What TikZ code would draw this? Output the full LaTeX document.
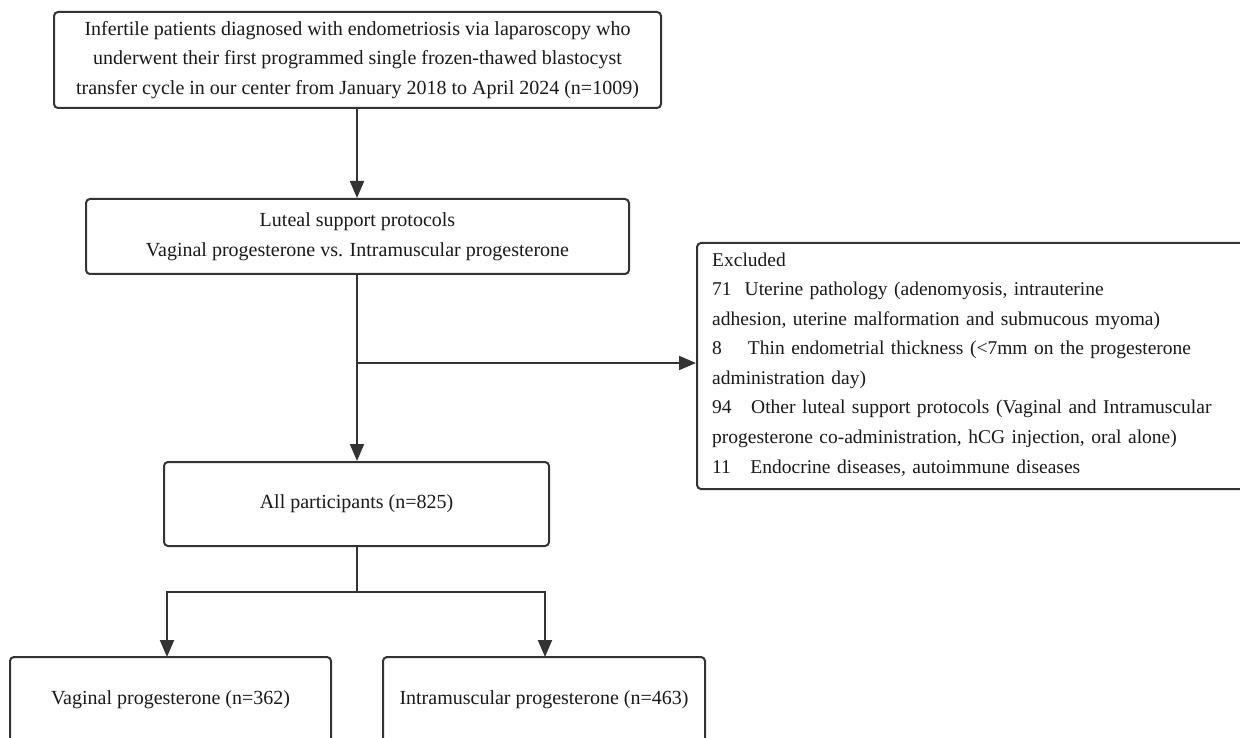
\documentclass[tikz,border=0pt]{standalone}
\usepackage{fontspec}
\setmainfont{Liberation Serif}
\usetikzlibrary{arrows.meta}
\definecolor{lineC}{HTML}{333333}
\definecolor{textC}{HTML}{1A1A1A}
\tikzset{
  boxn/.style={draw=lineC, line width=2pt, rounded corners=4pt, align=center,
    text=textC, font=\fontsize{20}{29.5}\selectfont, inner sep=0pt},
  conn/.style={draw=lineC, line width=2pt},
  arr/.style={conn, -{Triangle[length=17pt,width=14pt]}}
}
\begin{document}
\begin{tikzpicture}[x=1pt,y=-1pt]
\useasboundingbox (0,0) rectangle (1240,738);
\clip (0,0) rectangle (1240,738);
\fill[white] (0,0) rectangle (1240,738);
\node[boxn, minimum width=607pt, minimum height=96pt] (b1) at (357.5,60)
  {Infertile patients diagnosed with endometriosis via laparoscopy who\\
   underwent their first programmed single frozen-thawed blastocyst\\
   transfer cycle in our center from January 2018 to April 2024 (n=1009)};
\node[boxn, minimum width=543pt, minimum height=75pt] (b2) at (357.5,236.5)
  {Luteal support protocols\\ Vaginal progesterone vs. Intramuscular progesterone};
\node[boxn, minimum width=385pt, minimum height=84pt] (b3) at (356.5,504)
  {All participants (n=825)};
\node[boxn, minimum width=321pt, minimum height=85pt] (b4) at (170.5,699.5)
  {Vaginal progesterone (n=362)};
\node[boxn, minimum width=322pt, minimum height=85pt] (b5) at (544,699.5)
  {Intramuscular progesterone (n=463)};
\node[boxn, minimum width=560pt, minimum height=246pt, anchor=north west] (ex) at (696,242) {};
\node[anchor=base west, align=left, text=textC, font=\fontsize{19.5}{29.6}\selectfont,
  inner sep=0pt, text width=530pt] (extext) at (712,266)
  {Excluded\\
   71\ \ Uterine pathology (adenomyosis, intrauterine\\
   adhesion, uterine malformation and submucous myoma)\\
   8\ \ \ \ Thin endometrial thickness (<7mm on the progesterone\\
   administration day)\\
   94\ \ \ Other luteal support protocols (Vaginal and Intramuscular\\
   progesterone co-administration, hCG injection, oral alone)\\
   11\ \ \ Endocrine diseases, autoimmune diseases};
\coordinate (j1) at (357,363);
\coordinate (j2) at (357,592);
\coordinate (t4) at (167,657);
\coordinate (t5) at (545,657);
\draw[arr] (b1.south -| j1) -- (b2.north -| j1);
\draw[arr] (b2.south -| j1) -- (b3.north -| j1);
\draw[arr] (j1) -- (j1 -| ex.west);
\draw[conn] (b3.south -| j2) -- (j2);
\draw[arr] (j2) -| (t4);
\draw[arr] (j2) -| (t5);
\end{tikzpicture}
\end{document}
